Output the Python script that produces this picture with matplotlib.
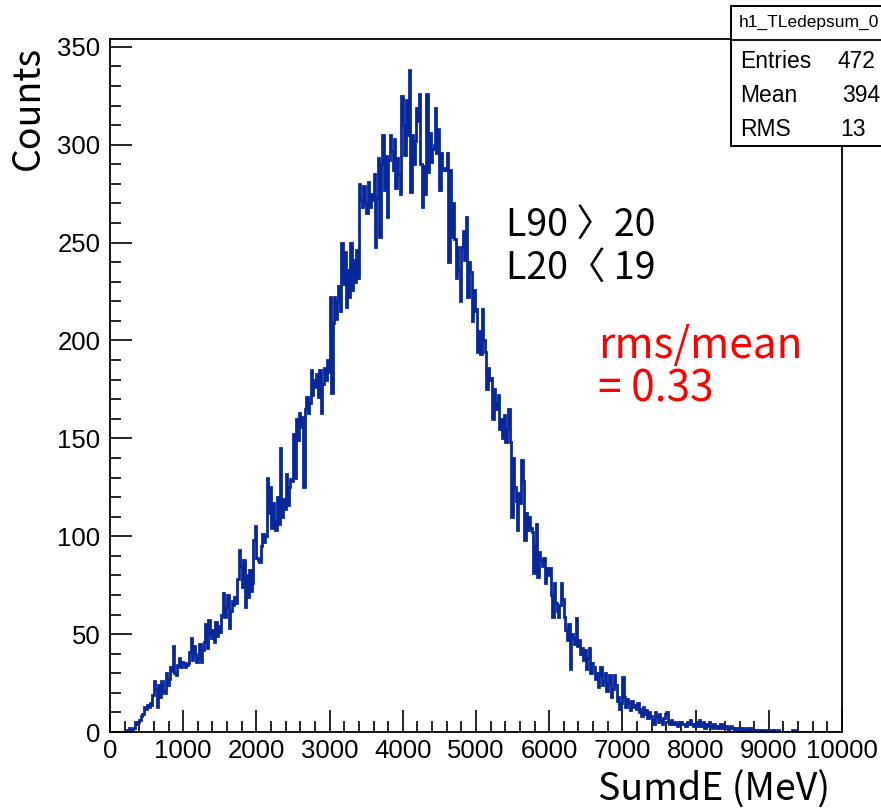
import numpy as np
import matplotlib
matplotlib.use('Agg')
import matplotlib.pyplot as plt
from matplotlib.patches import Rectangle
from matplotlib.lines import Line2D
from matplotlib.ticker import MultipleLocator

# ---------------- data ----------------
x_min, x_max, n_bins = 0, 10000, 500
counts = [
    0, 0, 0, 0, 0, 0, 0, 0, 0, 0,
    0, 1, 1, 2, 1, 1, 2, 5, 4, 5,
    6, 8, 9, 13, 12, 14, 13, 15, 14, 19,
    26, 22, 13, 24, 18, 26, 21, 20, 30, 24,
    27, 33, 31, 44, 30, 29, 34, 38, 33, 36,
    35, 33, 34, 35, 41, 48, 37, 44, 40, 36,
    38, 45, 36, 42, 46, 55, 43, 57, 50, 48,
    52, 46, 56, 49, 54, 51, 60, 71, 59, 64,
    70, 53, 62, 67, 65, 69, 66, 78, 93, 85,
    74, 88, 64, 80, 69, 83, 72, 76, 98, 105,
    89, 88, 87, 95, 101, 97, 100, 130, 112, 125,
    104, 117, 108, 103, 120, 106, 145, 110, 119, 114,
    132, 116, 125, 129, 128, 152, 130, 160, 149, 163,
    156, 161, 125, 165, 171, 163, 168, 185, 172, 180,
    176, 183, 171, 185, 163, 178, 186, 180, 190, 184,
    222, 173, 209, 222, 211, 220, 228, 215, 250, 229,
    245, 217, 236, 222, 250, 226, 241, 230, 246, 232,
    280, 272, 268, 279, 270, 265, 281, 268, 275, 272,
    285, 248, 273, 293, 253, 290, 305, 277, 294, 263,
    292, 305, 297, 287, 303, 278, 293, 285, 275, 325,
    310, 295, 323, 305, 338, 276, 305, 290, 302, 319,
    312, 326, 290, 268, 289, 275, 326, 286, 306, 291,
    298, 300, 319, 296, 308, 277, 296, 287, 288, 287,
    296, 240, 287, 253, 270, 252, 232, 248, 236, 220,
    248, 256, 241, 263, 222, 240, 235, 210, 226, 215,
    216, 194, 205, 193, 216, 200, 194, 175, 186, 180,
    181, 160, 175, 168, 165, 172, 155, 160, 150, 162,
    148, 155, 165, 148, 110, 140, 125, 118, 103, 122,
    117, 139, 128, 98, 112, 103, 110, 104, 102, 81,
    95, 106, 79, 92, 88, 85, 89, 76, 84, 80,
    84, 70, 59, 76, 66, 62, 59, 65, 76, 68,
    59, 52, 47, 55, 32, 50, 48, 45, 58, 44,
    47, 40, 43, 37, 42, 32, 38, 43, 30, 35,
    33, 27, 30, 23, 29, 33, 24, 26, 30, 21,
    25, 29, 18, 22, 29, 24, 16, 18, 12, 15,
    28, 18, 13, 17, 15, 11, 16, 13, 14, 12,
    15, 10, 12, 8, 13, 9, 11, 7, 10, 8,
    6, 4, 10, 8, 5, 9, 6, 4, 7, 9,
    10, 5, 4, 6, 4, 5, 4, 3, 5, 4,
    5, 4, 4, 3, 5, 4, 6, 4, 3, 4,
    5, 3, 6, 4, 3, 5, 2, 4, 3, 5,
    3, 2, 4, 3, 2, 3, 2, 4, 2, 3,
    2, 3, 1, 2, 3, 2, 1, 2, 2, 1,
    2, 1, 2, 1, 1, 2, 1, 2, 1, 1,
    1, 0, 1, 1, 0, 1, 0, 1, 1, 0,
    1, 1, 0, 1, 0, 0, 1, 0, 0, 0,
    0, 0, 0, 0, 0, 0, 1, 1, 0, 0,
    0, 0, 0, 0, 0, 0, 0, 0, 0, 0,
    0, 0, 0, 0, 0, 0, 0, 0, 0, 0,
    0, 0, 0, 0, 0, 0, 0, 0, 0, 0,
]
x_ticks = list(range(0, 10001, 1000))
y_ticks = list(range(0, 351, 50))
hist_name = "h1_TLedepsum_0"
stat_names = ["Entries", "Mean", "RMS"]
stat_values = ["472", "394", "13"]   # visible (cut) part of the stats values
x_title = "SumdE (MeV)"
y_title = "Counts"
cut_lines = ["L90 〉20", "L20〈 19"]
ratio_lines = ["rms/mean", "= 0.33"]

# ---------------- layout ----------------
W, H = 881, 810
fig = plt.figure(figsize=(W / 100, H / 100), dpi=100)
fig.patch.set_facecolor('white')

def fx(px):
    return px / W

def fy(py):
    return 1 - py / H

L, R, T, B = 110, 842, 39, 732
ax = fig.add_axes([fx(L), fy(B), (R - L) / W, (B - T) / H])

edges = np.linspace(x_min, x_max, n_bins + 1)
ax.stairs(counts, edges, color='#06289a', lw=2.0, baseline=None, zorder=2)
ax.set_xlim(x_min, x_max)
ax.set_ylim(0, 354)

ax.set_xticks(x_ticks)
ax.set_yticks(y_ticks)
ax.xaxis.set_minor_locator(MultipleLocator(200))
ax.yaxis.set_minor_locator(MultipleLocator(10))
ax.tick_params(which='both', direction='in', top=False, right=False,
               width=1.2, color='black')
ax.tick_params(which='major', length=16)
ax.tick_params(which='minor', length=8)
ax.tick_params(axis='x', pad=5, labelsize=18.5)
ax.tick_params(axis='y', pad=7, labelsize=18.5)
for lab in ax.get_xticklabels() + ax.get_yticklabels():
    lab.set_fontfamily('Liberation Sans')
for sp in ax.spines.values():
    sp.set_linewidth(1.3)
    sp.set_zorder(3)

kr = ['Noto Sans CJK KR', 'DejaVu Sans']

fig.text(fx(28), fy(46), y_title, rotation=90, ha='center', va='top',
         fontsize=27, family=kr)
fig.text(fx(830), fy(790), x_title, ha='right', va='center',
         fontsize=27, family=kr)

fig.text(fx(506), fy(225), cut_lines[0], ha='left', va='center',
         fontsize=27, family=kr)
fig.text(fx(506), fy(268), cut_lines[1], ha='left', va='center',
         fontsize=27, family=kr)

fig.text(fx(598), fy(346), ratio_lines[0], ha='left', va='center',
         fontsize=30.5, family=kr, color='#ff0000')
fig.text(fx(598), fy(389), ratio_lines[1], ha='left', va='center',
         fontsize=30.5, family=kr, color='#ff0000')

# stats box
box = Rectangle((fx(731), fy(146)), fx(960) - fx(731), (146 - 6) / H,
                transform=fig.transFigure, facecolor='white',
                edgecolor='black', lw=1.4, zorder=5)
fig.add_artist(box)
sep = Line2D([fx(731), fx(960)], [fy(40), fy(40)], transform=fig.transFigure,
             color='black', lw=1.3, zorder=6)
fig.add_artist(sep)
fig.text(fx(739), fy(22), hist_name, ha='left', va='center', fontsize=12.5,
         family='Liberation Sans', zorder=7)
row_y = [61, 95, 129]
val_x = [838, 842, 840]
for name, val, yy, vx in zip(stat_names, stat_values, row_y, val_x):
    fig.text(fx(740), fy(yy), name, ha='left', va='center', fontsize=16.5,
             family='Liberation Sans', zorder=7)
    fig.text(fx(vx), fy(yy), val, ha='left', va='center', fontsize=16.5,
             family='Liberation Sans', zorder=7)

fig.savefig('out.png', dpi=100)
